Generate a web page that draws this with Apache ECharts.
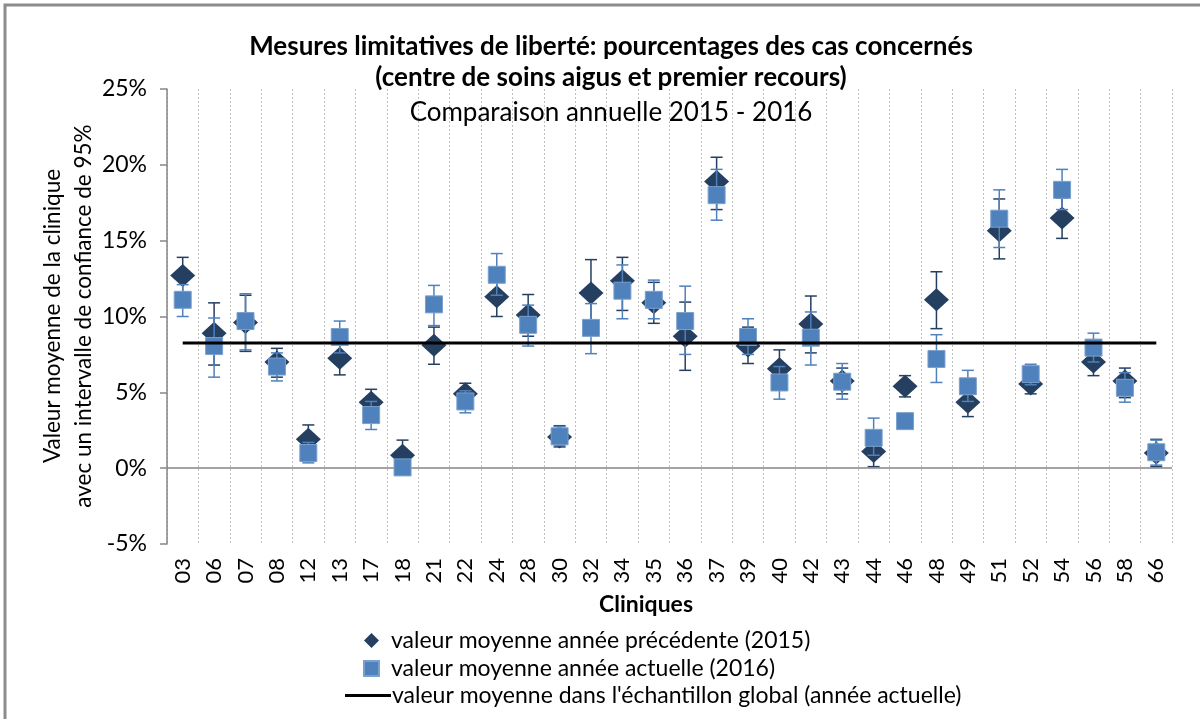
<!DOCTYPE html>
<html>
<head>
<meta charset="utf-8">
<title>Mesures limitatives de liberté</title>
<script src="https://cdn.jsdelivr.net/npm/echarts@6/dist/echarts.min.js"></script>
<style>
  html, body { margin: 0; padding: 0; background: #fff; }
  #chart { width: 1200px; height: 719px; }
</style>
</head>
<body>
<div id="chart"></div>
<script>
// cliniques (axe des catégories)
var cliniques = ['03', '06', '07', '08', '12', '13', '17', '18', '21', '22', '24', '28', '30', '32', '34', '35',
    '36', '37', '39', '40', '42', '43', '44', '46', '48', '49', '51', '52', '54', '56', '58', '66'];

// 2015 : valeur moyenne et intervalle de confiance (en %)
var moyenne2015 = [12.7, 8.9, 9.6, 7.0, 1.9, 7.25, 4.35, 0.85, 8.1, 4.9, 11.3, 10.1, 2.05, 11.55, 12.35, 10.9,
    8.7, 18.9, 8.05, 6.55, 9.5, 5.75, 1.1, 5.4, 11.1, 4.35, 15.65, 5.55, 16.5, 7.0, 5.75, 1.0];
var bas2015 = [11.6, 6.8, 7.7, 6.0, 1.1, 6.15, 3.6, 0.1, 6.85, 4.2, 10.0, 8.7, 1.4, 9.4, 10.4, 9.55,
    6.45, 17.05, 6.9, 5.4, 7.6, 4.9, 0.1, 4.7, 9.2, 3.4, 13.8, 4.9, 15.15, 6.1, 4.65, 0.1];
var haut2015 = [13.9, 10.9, 11.4, 7.9, 2.85, 8.3, 5.2, 1.85, 9.3, 5.6, 12.7, 11.45, 2.8, 13.75, 13.9, 12.25,
    10.95, 20.5, 9.3, 7.8, 11.35, 6.6, 2.05, 6.1, 12.95, 5.3, 17.75, 6.2, 17.8, 7.9, 6.6, 1.9];

// 2016
var moyenne2016 = [11.1, 8.05, 9.7, 6.7, 1.0, 8.65, 3.5, 0.05, 10.8, 4.4, 12.75, 9.45, 2.1, 9.25, 11.7, 11.1,
    9.7, 18.0, 8.65, 5.65, 8.6, 5.7, 2.0, 3.1, 7.2, 5.4, 16.45, 6.2, 18.35, 7.95, 5.3, 1.05];
var bas2016 = [10.0, 6.0, 7.8, 5.75, 0.35, 7.6, 2.55, 0.0, 9.4, 3.65, 11.4, 8.05, 1.5, 7.55, 9.85, 9.85,
    7.5, 16.35, 7.5, 4.55, 6.8, 4.55, 0.85, 2.8, 5.65, 4.4, 14.55, 5.5, 17.05, 7.0, 4.35, 0.2];
var haut2016 = [12.1, 9.9, 11.5, 7.6, 1.7, 9.7, 4.4, 0.2, 12.05, 5.1, 14.15, 10.75, 2.75, 10.85, 13.4, 12.4,
    12.0, 19.7, 9.85, 6.7, 10.3, 6.9, 3.3, 3.4, 8.8, 6.45, 18.35, 6.85, 19.7, 8.9, 6.3, 1.85];

// moyenne de l'échantillon global (année actuelle)
var moyenneGlobale = 8.25;

var yTicks = [-5, 0, 5, 10, 15, 20, 25];

var FONT = 'Lato, "Noto Sans", sans-serif';
var DARK = '#243f60';
var BLUE = '#4f81bd';

var NOM_2015 = 'valeur moyenne année précédente (2015)';
var NOM_2016 = 'valeur moyenne année actuelle (2016)';
var NOM_GLOBAL = "valeur moyenne dans l'échantillon global (année actuelle)";

function errData(lo, hi) {
    var out = [];
    for (var i = 0; i < lo.length; i++) {
        out.push([i, lo[i], hi[i]]);
    }
    return out;
}

// barre d'erreur verticale avec petits traits aux extrémités
function errRenderer(color) {
    return function (params, api) {
        var x = api.value(0);
        var pLo = api.coord([x, api.value(1)]);
        var pHi = api.coord([x, api.value(2)]);
        var w = 6;
        var style = { stroke: color, lineWidth: 1.5 };
        return {
            type: 'group',
            children: [
                { type: 'line', shape: { x1: pLo[0], y1: pLo[1], x2: pHi[0], y2: pHi[1] }, style: style },
                { type: 'line', shape: { x1: pLo[0] - w, y1: pLo[1], x2: pLo[0] + w, y2: pLo[1] }, style: style },
                { type: 'line', shape: { x1: pHi[0] - w, y1: pHi[1], x2: pHi[0] + w, y2: pHi[1] }, style: style }
            ]
        };
    };
}

var chart = echarts.init(document.getElementById('chart'));

var legendText = { fontFamily: FONT, fontSize: 23, color: '#000', lineHeight: 22 };

var option = {
    animation: false,
    backgroundColor: '#fff',
    textStyle: { fontFamily: FONT },
    title: {
        text: 'Mesures limitatives de liberté: pourcentages des cas concernés\n(centre de soins aigus et premier recours)',
        subtext: 'Comparaison annuelle 2015 - 2016',
        left: 606,
        top: 26,
        textAlign: 'center',
        itemGap: 4,
        textStyle: { fontFamily: FONT, fontSize: 26, fontWeight: 'bold', color: '#000', lineHeight: 31 },
        subtextStyle: { fontFamily: FONT, fontSize: 26, color: '#000', lineHeight: 31 }
    },
    grid: { left: 167, right: 28, top: 89, bottom: 175 },
    legend: [
        {
            orient: 'vertical',
            left: 358,
            top: 624,
            itemWidth: 15,
            itemHeight: 15,
            itemGap: 5,
            textStyle: Object.assign({ padding: [0, 0, 0, 7] }, legendText),
            data: [
                { name: NOM_2015, icon: 'diamond' },
                { name: NOM_2016, icon: 'rect' }
            ]
        },
        {
            orient: 'vertical',
            left: 340,
            top: 679,
            itemWidth: 46,
            itemHeight: 3,
            textStyle: Object.assign({ padding: [0, 0, 0, -4] }, legendText),
            data: [{ name: NOM_GLOBAL, icon: 'rect' }]
        }
    ],
    xAxis: {
        type: 'category',
        data: cliniques,
        axisLine: { show: false },
        axisTick: { show: false },
        axisLabel: { rotate: 90, margin: 14, fontSize: 22, color: '#000', fontFamily: FONT, interval: 0 },
        splitLine: { show: true, interval: 0, lineStyle: { color: '#bfbfbf', type: [2, 2], width: 1 } }
    },
    yAxis: {
        type: 'value',
        min: -5,
        max: 25,
        interval: 5,
        axisLine: { show: true, lineStyle: { color: '#868686', width: 1.5 } },
        axisTick: { show: true, inside: false, length: 7, lineStyle: { color: '#868686', width: 1.5 } },
        axisLabel: {
            margin: 20, fontSize: 23, color: '#000', fontFamily: FONT,
            formatter: function (v) { return yTicks.indexOf(v) >= 0 ? v + '%' : ''; }
        },
        splitLine: { show: false }
    },
    graphic: [
        {
            type: 'rect',
            shape: { x: 5, y: 5, width: 1300, height: 800 },
            style: { fill: null, stroke: '#8c8c8c', lineWidth: 3 },
            silent: true
        },
        {
            type: 'text',
            x: 68,
            y: 316,
            rotation: Math.PI / 2,
            style: {
                text: 'Valeur moyenne de la clinique\navec un intervalle de confiance de 95%',
                fontFamily: FONT,
                fontSize: 22.5,
                lineHeight: 31,
                fill: '#000',
                align: 'center',
                verticalAlign: 'middle'
            }
        },
        {
            // titre de l'axe des cliniques
            type: 'text',
            x: 646,
            y: 605,
            style: {
                text: 'Cliniques',
                fontFamily: FONT,
                fontSize: 23,
                fontWeight: 'bold',
                fill: '#000',
                align: 'center',
                verticalAlign: 'middle'
            }
        }
    ],
    series: [
        {
            name: 'err2015',
            type: 'custom',
            renderItem: errRenderer(DARK),
            data: errData(bas2015, haut2015),
            z: 2,
            silent: true,
            // ligne du zéro
            markLine: {
                silent: true,
                symbol: 'none',
                label: { show: false },
                lineStyle: { color: '#868686', width: 1.5, type: 'solid' },
                data: [{ yAxis: 0 }]
            }
        },
        {
            name: NOM_2015,
            type: 'scatter',
            symbol: 'diamond',
            symbolSize: [25, 23],
            itemStyle: { color: DARK, opacity: 1 },
            data: moyenne2015,
            z: 3
        },
        {
            name: 'err2016',
            type: 'custom',
            renderItem: errRenderer(BLUE),
            data: errData(bas2016, haut2016),
            z: 4,
            silent: true
        },
        {
            name: NOM_2016,
            type: 'scatter',
            symbol: 'rect',
            symbolSize: 17,
            itemStyle: { color: BLUE, borderColor: '#7ba0cd', borderWidth: 1, opacity: 1 },
            data: moyenne2016,
            z: 5
        },
        {
            name: NOM_GLOBAL,
            type: 'line',
            symbol: 'none',
            lineStyle: { color: '#000', width: 3 },
            itemStyle: { color: '#000' },
            data: [[cliniques[0], moyenneGlobale], [cliniques[cliniques.length - 1], moyenneGlobale]],
            z: 6
        }
    ]
};

chart.setOption(option);
</script>
</body>
</html>
